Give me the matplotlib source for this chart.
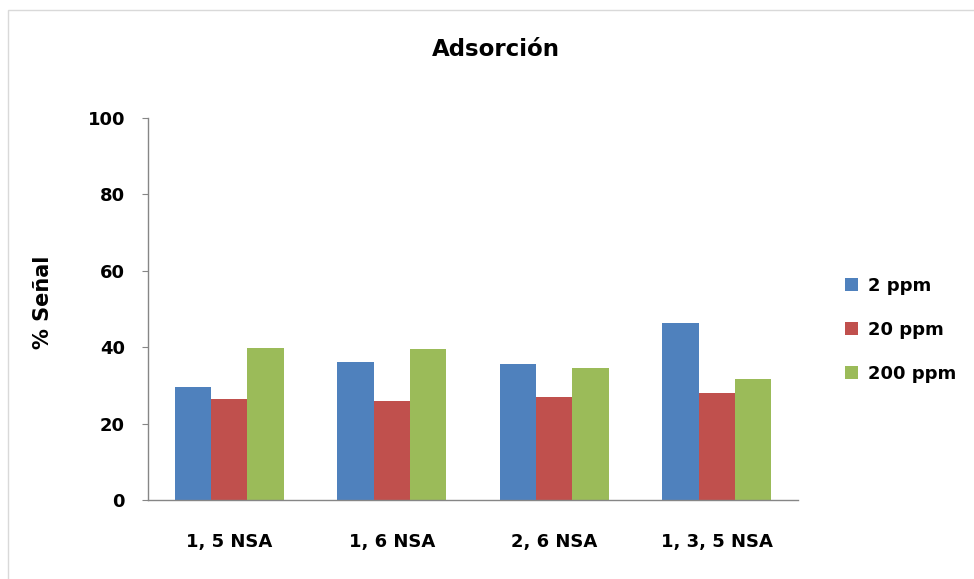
import numpy as np
import matplotlib
matplotlib.use("Agg")
import matplotlib.pyplot as plt
from matplotlib.patches import Rectangle

plt.rcParams['font.family'] = ['DejaVu Sans']

categories = ["1, 5 NSA", "1, 6 NSA", "2, 6 NSA", "1, 3, 5 NSA"]
series_names = ["2 ppm", "20 ppm", "200 ppm"]
ppm2 = [29.7, 36.0, 35.6, 46.4]
ppm20 = [26.4, 26.0, 26.9, 28.0]
ppm200 = [39.9, 39.4, 34.5, 31.8]
colors = ["#4F81BD", "#C0504D", "#9BBB59"]

fig = plt.figure(figsize=(9.74, 5.79), dpi=100)
ax = fig.add_axes([148/974, 79/579, 650/974, 382/579])

x = np.arange(len(categories))
w = 0.223
for i, (vals, name) in enumerate(zip([ppm2, ppm20, ppm200], series_names)):
    ax.bar(x + (i - 1)*w, vals, width=w, color=colors[i], label=name, zorder=2)

ax.set_xlim(-0.5, 3.5)
ax.set_ylim(0, 100)
ax.set_yticks(np.arange(0, 101, 20))
ax.set_xticks(x)
ax.set_xticklabels(categories, fontsize=13, fontweight="bold")
for lab in ax.get_yticklabels():
    lab.set_fontsize(13)
    lab.set_fontweight("bold")

for s in ["top", "right"]:
    ax.spines[s].set_visible(False)
for s in ["left", "bottom"]:
    ax.spines[s].set_color("#868686")
    ax.spines[s].set_linewidth(1.0)
ax.tick_params(axis="y", length=4.5, color="#868686", pad=12)
ax.tick_params(axis="x", length=0, pad=24)

fig.text(496/974, 1 - 49/579, "Adsorción", ha="center", va="center",
         fontsize=16.5, fontweight="bold")
fig.text(43/974, 1 - 302/579, "% Señal", ha="center", va="center",
         rotation=90, fontsize=15, fontweight="bold")

leg = ax.legend(loc="center left", bbox_to_anchor=(845/974, 1 - 330/579),
                bbox_transform=fig.transFigure, frameon=False,
                prop={"size": 13, "weight": "bold"}, handlelength=0.72,
                handleheight=0.72, handletextpad=0.55, labelspacing=1.45,
                borderpad=0, borderaxespad=0)

# chart area border
fig.patches.append(Rectangle((8/974, -0.1), 1.1, 1 - 10/579 + 0.1,
                             transform=fig.transFigure, fill=False,
                             edgecolor="#d9d9d9", linewidth=1.0))

fig.savefig("out.png", dpi=100)
